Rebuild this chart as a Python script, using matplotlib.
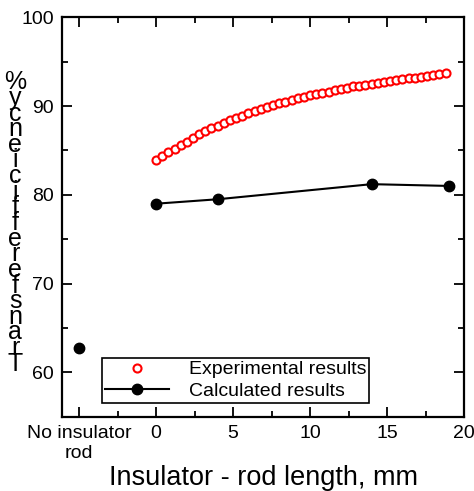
import matplotlib
matplotlib.use("Agg")
import matplotlib.pyplot as plt
from matplotlib.ticker import MultipleLocator

plt.rcParams["font.family"] = ["Liberation Sans", "DejaVu Sans"]

# experimental transfer efficiency vs insulator-rod length (mm)
exp_x = [0.0, 0.4, 0.8, 1.2, 1.6, 2.0, 2.4, 2.8, 3.2, 3.6, 4.0, 4.4, 4.8, 5.2,
         5.6, 6.0, 6.4, 6.8, 7.2, 7.6, 8.0, 8.4, 8.8, 9.2, 9.6, 10.0, 10.4,
         10.8, 11.2, 11.6, 12.0, 12.4, 12.8, 13.2, 13.6, 14.0, 14.4, 14.8,
         15.2, 15.6, 16.0, 16.4, 16.8, 17.2, 17.6, 18.0, 18.4, 18.8]
exp_y = [83.9, 84.4, 84.8, 85.2, 85.6, 86.0, 86.4, 86.8, 87.2, 87.5, 87.8,
         88.1, 88.4, 88.7, 88.9, 89.2, 89.4, 89.7, 89.9, 90.1, 90.3, 90.5,
         90.7, 90.9, 91.0, 91.2, 91.3, 91.5, 91.6, 91.8, 91.9, 92.0, 92.2,
         92.3, 92.4, 92.5, 92.6, 92.7, 92.8, 92.9, 93.0, 93.1, 93.2, 93.3,
         93.4, 93.5, 93.6, 93.7]

# calculated results
calc_x = [0, 4, 14, 19]
calc_y = [79.0, 79.5, 81.2, 81.0]

# "no insulator rod" case, drawn at x = -5
norod_x = [-5]
norod_y = [62.7]

xticks = [-5, 0, 5, 10, 15, 20]
xticklabels = ["No insulator\nrod", "0", "5", "10", "15", "20"]
yticks = [60, 70, 80, 90, 100]

fig = plt.figure(figsize=(4.74, 4.91), dpi=100)
ax = fig.add_axes([0.131, 0.151, 0.848, 0.814])

ax.plot(exp_x, exp_y, "o", color="red", mfc="white", ms=5.8, mew=1.5,
        linestyle="none", label="Experimental results")
ax.plot(calc_x, calc_y, "-o", color="black", ms=7.5, lw=1.5,
        label="Calculated results")
ax.plot(norod_x, norod_y, "o", color="black", ms=7.5, linestyle="none")

ax.set_xlim(-6.1, 20)
ax.set_ylim(55, 100)
ax.set_xticks(xticks)
ax.set_xticklabels(xticklabels)
ax.set_yticks(yticks)
ax.xaxis.set_minor_locator(MultipleLocator(2.5))
ax.yaxis.set_minor_locator(MultipleLocator(5))
ax.tick_params(which="both", direction="in", top=True, right=True,
               labelsize=14, width=1.3)
ax.tick_params(which="major", length=7, pad=6)
ax.tick_params(which="minor", length=4)
for sp in ax.spines.values():
    sp.set_linewidth(1.6)

ax.set_xlabel("Insulator - rod length, mm", fontsize=19.5, labelpad=2)

ylab = "\n".join(reversed("Transferefficiency%"))
ax.set_ylabel(ylab, rotation=0, fontsize=18, linespacing=0.56,
              ha="center", va="center")
ax.yaxis.set_label_coords(-0.117, 0.485)

leg = ax.legend(loc="lower left", bbox_to_anchor=(0.1, 0.035),
                borderaxespad=0, fontsize=14, fancybox=False,
                edgecolor="black", framealpha=1, handlelength=3.3,
                handletextpad=1.0, labelspacing=0.2, borderpad=0.15)
leg.get_frame().set_linewidth(1.2)

fig.savefig("out.png", dpi=100)
